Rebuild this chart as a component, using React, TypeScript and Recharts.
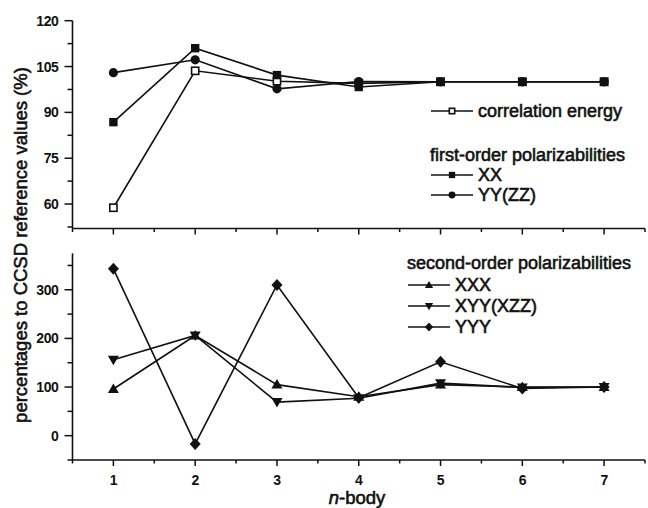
import React from "react";
import { LineChart, Line, XAxis, YAxis } from "recharts";

// n-body order (x)
const nBody = [1, 2, 3, 4, 5, 6, 7];

// top panel: correlation energy + first-order polarizabilities (%)
const correlationEnergy = [58.8, 103.6, 100.2, 99.5, 100, 100, 100];
const firstXX = [86.8, 111.0, 102.2, 98.3, 100, 100, 100];
const firstYYZZ = [103.0, 107.2, 97.7, 100.1, 100, 100, 100];

// bottom panel: second-order polarizabilities (%)
const secondXXX = [96, 206, 105, 80, 105, 100, 100];
const secondXYYXZZ = [156, 206, 69, 77, 108, 99, 100];
const secondYYY = [343, -17, 310, 78, 152, 97, 100];

// ticks (majors get a label, the rest are minor)
const xTicks = [0.5, 1, 1.5, 2, 2.5, 3, 3.5, 4, 4.5, 5, 5.5, 6, 6.5, 7, 7.5];
const xLabels = [1, 2, 3, 4, 5, 6, 7];
const topTicks = [52.5, 60, 67.5, 75, 82.5, 90, 97.5, 105, 112.5, 120];
const topLabels = [60, 75, 90, 105, 120];
const bottomTicks = [-50, 0, 50, 100, 150, 200, 250, 300, 350];
const bottomLabels = [0, 100, 200, 300];

const topData = nBody.map((n, i) => ({
  n,
  corr: correlationEnergy[i],
  xx: firstXX[i],
  yy: firstYYZZ[i],
}));

const bottomData = nBody.map((n, i) => ({
  n,
  xxx: secondXXX[i],
  xyy: secondXYYXZZ[i],
  yyy: secondYYY[i],
}));

const FONT = '"Liberation Sans", Arial, Helvetica, sans-serif';
const INK = "#111";

type Shape = "openSquare" | "square" | "circle" | "triUp" | "triDown" | "diamond";

function Marker({ shape, cx, cy, s = 1 }: { shape: Shape; cx: number; cy: number; s?: number }) {
  switch (shape) {
    case "openSquare":
      return (
        <rect x={cx - 3.6 * s} y={cy - 3.6 * s} width={7.2 * s} height={7.2 * s}
          fill="#fff" stroke={INK} strokeWidth={1.6} />
      );
    case "square":
      return <rect x={cx - 4.2 * s} y={cy - 4.2 * s} width={8.4 * s} height={8.4 * s} fill={INK} />;
    case "circle":
      return <circle cx={cx} cy={cy} r={4.6 * s} fill={INK} />;
    case "triUp":
      return (
        <polygon fill={INK}
          points={`${cx},${cy - 5.5 * s} ${cx + 5.5 * s},${cy + 4 * s} ${cx - 5.5 * s},${cy + 4 * s}`} />
      );
    case "triDown":
      return (
        <polygon fill={INK}
          points={`${cx},${cy + 5.5 * s} ${cx + 5.5 * s},${cy - 4 * s} ${cx - 5.5 * s},${cy - 4 * s}`} />
      );
    case "diamond":
      return (
        <polygon fill={INK}
          points={`${cx},${cy - 6 * s} ${cx + 5.5 * s},${cy} ${cx},${cy + 6 * s} ${cx - 5.5 * s},${cy}`} />
      );
  }
}

const dotOf = (shape: Shape) => (p: any) => (
  <Marker key={`${shape}-${p.index}`} shape={shape} cx={p.cx} cy={p.cy} />
);

const tickText = {
  fontFamily: FONT,
  fontSize: 14,
  fontWeight: 700,
  fill: INK,
  letterSpacing: -0.4,
};

const makeYTick = (labels: number[]) => (p: any) => {
  const v = p.payload.value;
  const major = labels.includes(v);
  return (
    <g>
      <line x1={p.x - (major ? 8 : 5)} x2={p.x} y1={p.y} y2={p.y} stroke={INK} strokeWidth={1.5} />
      {major && (
        <text x={p.x - 14} y={p.y} textAnchor="end" dominantBaseline="central" style={tickText}>
          {v}
        </text>
      )}
    </g>
  );
};

const makeXTick = (showLabels: boolean) => (p: any) => {
  const v = p.payload.value;
  const major = xLabels.includes(v);
  return (
    <g>
      <line x1={p.x} x2={p.x} y1={p.y} y2={p.y + (major ? 6 : 3.5)} stroke={INK} strokeWidth={1.5} />
      {major && showLabels && (
        <text x={p.x} y={p.y + 20} textAnchor="middle" dominantBaseline="central" style={tickText}>
          {v}
        </text>
      )}
    </g>
  );
};

const axisLine = { stroke: INK, strokeWidth: 1.6 };

const legendText: React.CSSProperties = {
  fontFamily: FONT,
  fontSize: 18,
  color: INK,
  WebkitTextStroke: "0.6px #111",
  whiteSpace: "nowrap",
  lineHeight: "20px",
  position: "absolute",
};

function LegendRow({ shape, label, x, y }: { shape: Shape; label: string; x: number; y: number }) {
  return (
    <div style={{ ...legendText, left: x, top: y - 10, display: "flex", alignItems: "center" }}>
      <svg width={44} height={14} style={{ marginRight: 4 }}>
        <line x1={1} x2={43} y1={7} y2={7} stroke={INK} strokeWidth={1.6} />
        <Marker shape={shape} cx={22} cy={7} s={0.75} />
      </svg>
      <span>{label}</span>
    </div>
  );
}

export default function App() {
  return (
    <div style={{ position: "absolute", left: 0, top: 0, width: 648, height: 508, background: "#fff" }}>
      <div style={{ position: "absolute", left: 0, top: 0 }}>
        <LineChart width={648} height={240} data={topData}
          margin={{ top: 20.7, right: 3, bottom: 0, left: 0 }}>
          <XAxis dataKey="n" type="number" domain={[0.5, 7.5]} ticks={xTicks} interval={0}
            height={11.5} axisLine={axisLine} tickLine={false} tickSize={0} tickMargin={0}
            tick={makeXTick(false)} />
          <YAxis type="number" domain={[52, 120]} ticks={topTicks} interval={0} width={72.5}
            axisLine={axisLine} tickLine={false} tickSize={0} tickMargin={0}
            tick={makeYTick(topLabels)} allowDataOverflow />
          <Line dataKey="corr" type="linear" stroke={INK} strokeWidth={1.6}
            dot={dotOf("openSquare")} activeDot={false} isAnimationActive={false} />
          <Line dataKey="xx" type="linear" stroke={INK} strokeWidth={1.6}
            dot={dotOf("square")} activeDot={false} isAnimationActive={false} />
          <Line dataKey="yy" type="linear" stroke={INK} strokeWidth={1.6}
            dot={dotOf("circle")} activeDot={false} isAnimationActive={false} />
        </LineChart>
      </div>

      <div style={{ position: "absolute", left: 0, top: 240 }}>
        <LineChart width={648} height={268} data={bottomData}
          margin={{ top: 13.3, right: 3, bottom: 0, left: 0 }}>
          <XAxis dataKey="n" type="number" domain={[0.5, 7.5]} ticks={xTicks} interval={0}
            height={48} axisLine={axisLine} tickLine={false} tickSize={0} tickMargin={0}
            tick={makeXTick(true)} />
          <YAxis type="number" domain={[-50, 375]} ticks={bottomTicks} interval={0} width={72.5}
            axisLine={axisLine} tickLine={false} tickSize={0} tickMargin={0}
            tick={makeYTick(bottomLabels)} allowDataOverflow />
          <Line dataKey="xxx" type="linear" stroke={INK} strokeWidth={1.6}
            dot={dotOf("triUp")} activeDot={false} isAnimationActive={false} />
          <Line dataKey="xyy" type="linear" stroke={INK} strokeWidth={1.6}
            dot={dotOf("triDown")} activeDot={false} isAnimationActive={false} />
          <Line dataKey="yyy" type="linear" stroke={INK} strokeWidth={1.6}
            dot={dotOf("diamond")} activeDot={false} isAnimationActive={false} />
        </LineChart>
      </div>

      {/* axis titles */}
      <svg width={648} height={508} style={{ position: "absolute", left: 0, top: 0, pointerEvents: "none" }}>
        <text x={20} y={245} transform="rotate(-90, 20, 245)" textAnchor="middle" dominantBaseline="central"
          style={{ fontFamily: FONT, fontSize: 18.5, fill: INK, stroke: INK, strokeWidth: 0.6 }}>
          percentages to CCSD reference values (%)
        </text>
        <text x={357} y={497} textAnchor="middle" dominantBaseline="central"
          style={{ fontFamily: FONT, fontSize: 18.5, fill: INK, stroke: INK, strokeWidth: 0.6 }}>
          <tspan fontStyle="italic">n</tspan>-body
        </text>
      </svg>

      {/* legends */}
      <LegendRow shape="openSquare" label="correlation energy" x={430} y={111} />
      <div style={{ ...legendText, left: 430, top: 155 - 10 }}>first-order polarizabilities</div>
      <LegendRow shape="square" label="XX" x={430} y={175} />
      <LegendRow shape="circle" label="YY(ZZ)" x={430} y={195} />

      <div style={{ ...legendText, left: 407, top: 263 - 10 }}>second-order polarizabilities</div>
      <LegendRow shape="triUp" label="XXX" x={407} y={285} />
      <LegendRow shape="triDown" label="XYY(XZZ)" x={407} y={306} />
      <LegendRow shape="diamond" label="YYY" x={407} y={327} />
    </div>
  );
}
